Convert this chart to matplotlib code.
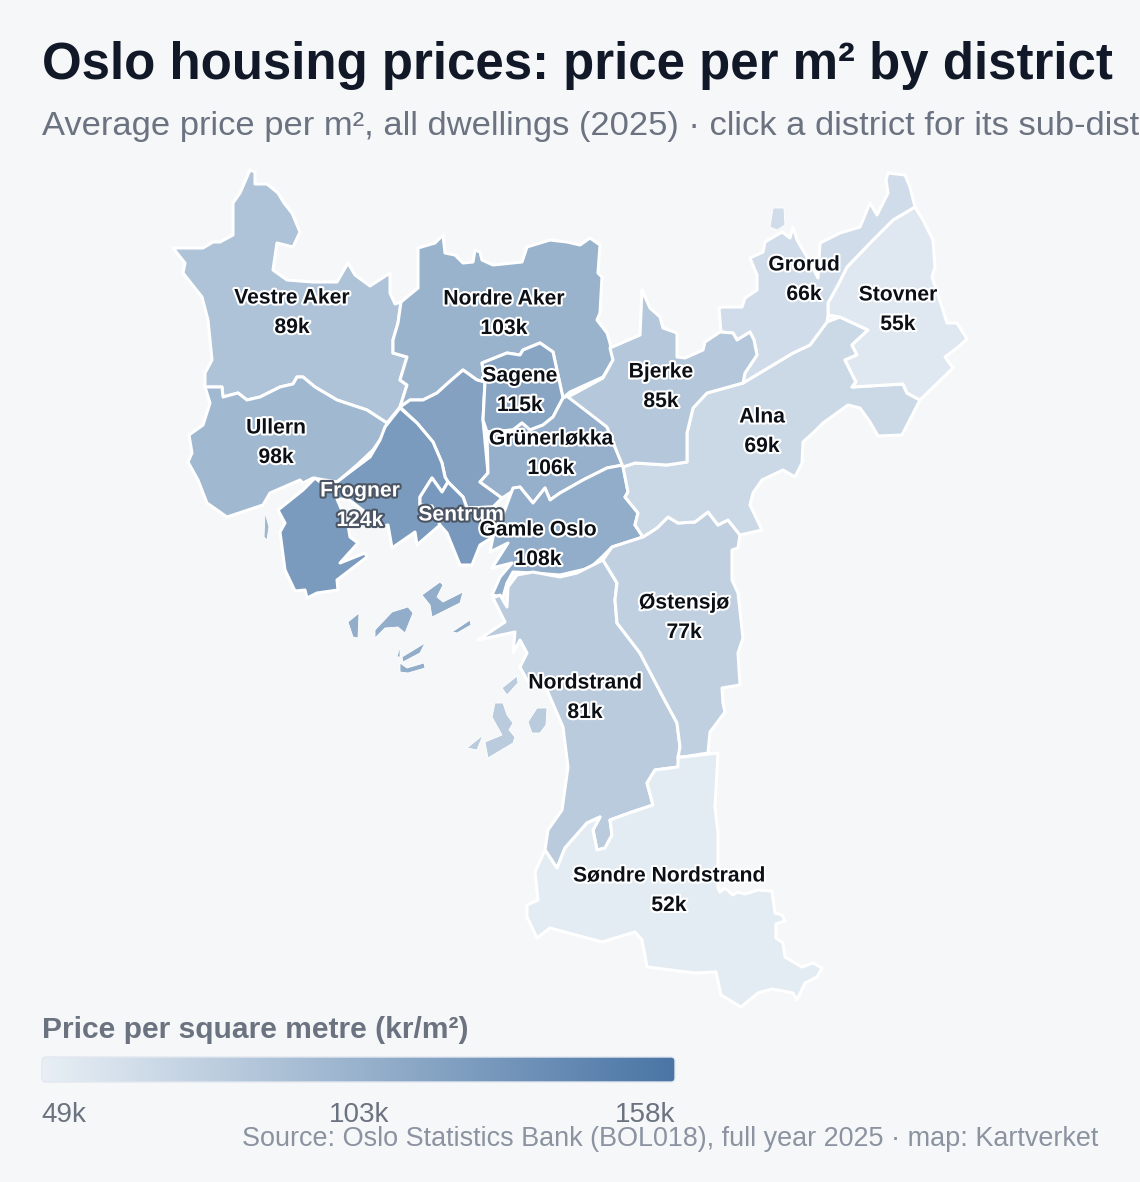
import matplotlib
matplotlib.use('Agg')
import matplotlib.pyplot as plt
import matplotlib.patheffects as pe
import numpy as np
from matplotlib.colors import LinearSegmentedColormap, Normalize
from matplotlib.patches import FancyBboxPatch, Polygon

plt.rcParams['font.family'] = ['Liberation Sans', 'DejaVu Sans']

# price per m2 in thousand kr
scale_min, scale_mid, scale_max = 49, 103, 158
scale_labels = ['49k', '103k', '158k']

names = ['Vestre Aker', 'Nordre Aker', 'Sagene', 'Bjerke', 'Grorud', 'Stovner', 'Ullern',
         'Grünerløkka', 'Alna', 'Frogner', 'Sentrum', 'Gamle Oslo', 'Østensjø',
         'Nordstrand', 'Søndre Nordstrand']
prices = [89, 103, 115, 85, 66, 55, 98, 106, 69, 124, 126, 108, 77, 81, 52]
price_labels = ['89k', '103k', '115k', '85k', '66k', '55k', '98k', '106k', '69k', '124k',
                None, '108k', '77k', '81k', '52k']
label_xy = [(292, 297), (504, 298), (520, 375), (661, 371), (804, 264), (898, 294), (276, 427),
            (551, 438), (762, 416), (360, 490), (461, 514), (538, 529), (684, 602),
            (585, 682), (669, 875)]
hanshaugen_price = 118  # district has no label on the map

vestre_aker = [(250, 170), (255, 172), (255, 184), (267, 184), (278, 193), (284, 203), (292, 213), (300, 232),
               (293, 247), (277, 243), (273, 270), (287, 280), (313, 282), (337, 282), (348, 263), (355, 275),
               (370, 286), (390, 273), (390, 293), (395, 304), (401, 302), (398, 323), (393, 340), (393, 353),
               (407, 357), (400, 380), (407, 385), (400, 407), (387, 423), (367, 410), (337, 400), (315, 387),
               (303, 377), (297, 377), (293, 384), (280, 387), (260, 397), (247, 400), (238, 393), (223, 397),
               (222, 387), (205, 387), (205, 373), (212, 360), (208, 320), (202, 297), (183, 273), (185, 263),
               (173, 248), (203, 248), (213, 242), (220, 242), (233, 235), (233, 203), (240, 193)]
ullern = [(205, 387), (222, 387), (223, 397), (238, 393), (247, 400), (260, 397), (280, 387), (293, 384),
          (297, 377), (303, 377), (315, 387), (337, 400), (367, 410), (387, 423), (382, 437), (373, 450),
          (357, 465), (337, 482), (313, 478), (303, 483), (300, 480), (270, 493), (263, 505), (227, 517),
          (207, 503), (198, 480), (188, 462), (192, 453), (189, 435), (203, 425), (210, 403)]
ullern_islet = [(265, 512), (269, 527), (267, 540), (264, 537)]
frogner = [(400, 408), (417, 423), (433, 442), (442, 463), (445, 477), (448, 482), (442, 492), (432, 478),
           (420, 497), (420, 505), (432, 506), (440, 525), (417, 545), (415, 532), (392, 548), (388, 525),
           (383, 526), (360, 508), (348, 499), (337, 499), (348, 525), (350, 537), (358, 543), (340, 563),
           (365, 553), (367, 557), (337, 580), (338, 590), (317, 593), (307, 598), (305, 590), (295, 591),
           (285, 570), (280, 532), (285, 523), (278, 510), (303, 490), (315, 478), (320, 482), (337, 482),
           (350, 472), (370, 457), (380, 440), (385, 427)]
sentrum = [(448, 482), (463, 497), (467, 508), (493, 507), (503, 510), (493, 537), (480, 545), (472, 565),
           (460, 565), (447, 533), (440, 525), (432, 506), (420, 505), (420, 497), (432, 478), (442, 492)]
hanshaugen = [(400, 407), (410, 400), (423, 400), (437, 393), (448, 383), (463, 370), (477, 380), (485, 382),
              (483, 420), (488, 473), (480, 482), (502, 498), (493, 507), (467, 508), (463, 497), (448, 482),
              (445, 477), (442, 463), (433, 442), (417, 423)]
nordre_aker = [(401, 302), (418, 288), (418, 248), (435, 243), (443, 235), (445, 253), (455, 255), (463, 263),
               (473, 262), (475, 250), (480, 252), (482, 260), (493, 265), (522, 262), (527, 247), (550, 240),
               (567, 242), (580, 245), (590, 238), (600, 245), (598, 273), (602, 277), (600, 313), (597, 320),
               (607, 333), (610, 343), (613, 360), (603, 377), (570, 392), (563, 398), (553, 352), (540, 343),
               (523, 350), (520, 355), (507, 353), (482, 363), (485, 382), (477, 380), (463, 370), (448, 383),
               (437, 393), (423, 400), (410, 400), (400, 407), (407, 385), (400, 380), (407, 357), (393, 353),
               (393, 340), (398, 323)]
sagene = [(482, 363), (507, 353), (520, 355), (523, 350), (540, 343), (553, 352), (563, 398), (553, 417),
          (543, 425), (530, 430), (522, 423), (513, 430), (487, 432), (483, 420), (485, 382)]
grunerlokka = [(487, 432), (513, 430), (522, 423), (530, 430), (543, 425), (553, 417), (563, 398), (570, 395),
               (607, 427), (615, 447), (623, 465), (607, 468), (583, 480), (560, 493), (550, 500), (545, 488),
               (533, 503), (520, 487), (513, 491), (502, 498), (480, 482), (488, 473)]
gamle_oslo = [(513, 488), (520, 487), (533, 503), (545, 488), (550, 500), (560, 493), (583, 480), (607, 468),
              (623, 465), (628, 492), (625, 497), (638, 513), (635, 525), (643, 537), (612, 547), (602, 557),
              (590, 568), (560, 575), (533, 573), (513, 572), (507, 583), (503, 597), (492, 595), (500, 577),
              (512, 563), (492, 568), (508, 543), (490, 552), (493, 537), (503, 515)]
oslo_islets = [[(422, 595), (440, 582), (443, 585), (437, 597), (443, 602), (463, 592), (460, 603), (432, 617), (430, 605)],
               [(375, 630), (392, 612), (408, 607), (413, 613), (405, 633), (398, 627), (385, 628), (375, 638)],
               [(348, 622), (359, 613), (358, 638), (353, 637)],
               [(452, 632), (470, 620), (471, 625), (457, 633)],
               [(402, 657), (425, 643), (420, 653), (403, 662)],
               [(400, 663), (407, 668), (424, 663), (425, 668), (408, 673), (400, 672)],
               [(397, 657), (400, 646), (400, 657)]]
nordstrand = [(603, 560), (577, 573), (560, 577), (533, 572), (517, 575), (508, 587), (507, 607), (500, 595),
              (493, 598), (505, 622), (478, 640), (515, 632), (513, 653), (520, 640), (527, 653), (520, 667),
              (527, 680), (547, 690), (563, 727), (568, 767), (562, 810), (548, 830), (545, 850), (557, 868),
              (565, 848), (587, 823), (600, 817), (593, 830), (597, 850), (605, 848), (612, 835), (610, 820),
              (632, 812), (653, 805), (647, 783), (655, 770), (678, 767), (680, 747), (677, 723), (663, 697),
              (640, 653), (617, 623), (615, 600), (617, 583)]
nordstrand_islets = [[(502, 688), (517, 676), (518, 683), (507, 695)],
                     [(528, 722), (537, 708), (547, 708), (546, 725), (540, 733), (532, 733)],
                     [(492, 717), (495, 703), (503, 703), (507, 715), (513, 723), (509, 730), (515, 737), (513, 743),
                      (488, 758), (485, 742), (502, 735)],
                     [(467, 748), (483, 735), (477, 750)]]
ostensjo = [(603, 560), (612, 547), (643, 537), (657, 528), (668, 517), (678, 523), (695, 522), (708, 512),
            (718, 525), (728, 520), (740, 535), (738, 548), (732, 550), (732, 580), (738, 593), (743, 638),
            (738, 653), (740, 685), (722, 688), (723, 703), (725, 712), (710, 732), (708, 753), (683, 757),
            (678, 757), (680, 747), (677, 723), (663, 697), (640, 653), (617, 623), (615, 600), (617, 583)]
sondre = [(678, 757), (683, 757), (718, 753), (715, 807), (718, 833), (718, 888), (720, 892), (725, 888),
          (733, 895), (737, 892), (745, 894), (758, 890), (772, 891), (775, 913), (782, 915), (785, 921),
          (776, 924), (776, 938), (783, 943), (785, 957), (802, 967), (813, 963), (822, 968), (817, 977),
          (805, 983), (797, 1000), (793, 993), (772, 989), (758, 993), (741, 1007), (721, 995), (716, 972),
          (695, 973), (647, 967), (642, 940), (635, 932), (602, 942), (550, 928), (537, 938), (527, 917),
          (527, 905), (538, 900), (535, 872), (545, 850), (557, 868), (565, 848), (587, 823), (600, 817),
          (593, 830), (597, 850), (605, 848), (612, 835), (610, 820), (632, 812), (653, 805), (647, 783),
          (655, 770), (678, 767)]
alna = [(623, 467), (635, 463), (667, 465), (687, 462), (687, 433), (693, 408), (707, 393), (743, 383),
        (793, 353), (810, 345), (827, 322), (840, 317), (868, 330), (852, 345), (857, 355), (845, 360),
        (856, 382), (852, 387), (903, 384), (907, 393), (920, 400), (902, 435), (878, 436), (870, 422),
        (860, 408), (848, 405), (823, 423), (813, 433), (803, 442), (802, 463), (795, 477), (783, 470),
        (762, 480), (753, 493), (750, 505), (762, 530), (740, 535), (728, 520), (718, 525), (708, 512),
        (695, 522), (678, 523), (668, 517), (657, 528), (643, 537), (635, 525), (638, 513), (625, 497),
        (628, 492)]
stovner = [(915, 207), (923, 220), (933, 240), (935, 267), (932, 277), (942, 307), (947, 323), (957, 323),
           (967, 339), (957, 348), (945, 357), (953, 368), (920, 400), (907, 393), (903, 384), (852, 387),
           (856, 382), (845, 360), (857, 355), (852, 345), (868, 330), (840, 317), (828, 315), (828, 303),
           (838, 285), (847, 267), (873, 240), (893, 220)]
grorud = [(915, 207), (910, 187), (905, 175), (888, 173), (886, 180), (888, 193), (877, 215), (870, 203),
          (860, 227), (840, 233), (820, 243), (818, 278), (807, 257), (797, 240), (793, 227), (790, 238),
          (782, 232), (765, 242), (763, 252), (750, 258), (757, 275), (757, 290), (745, 298), (742, 307),
          (723, 307), (719, 308), (721, 332), (733, 333), (737, 340), (750, 332), (754, 340), (757, 355),
          (745, 373), (743, 383), (793, 353), (810, 345), (827, 322), (828, 315), (828, 303), (838, 285),
          (847, 267), (873, 240), (893, 220)]
grorud_exclave = [(773, 208), (784, 208), (785, 225), (777, 230), (770, 227)]
bjerke = [(568, 397), (603, 378), (613, 360), (610, 348), (640, 335), (642, 290), (650, 308), (660, 317),
          (663, 328), (677, 333), (677, 357), (685, 358), (703, 350), (705, 342), (720, 332), (733, 333),
          (737, 340), (750, 332), (754, 340), (757, 355), (745, 373), (743, 383), (707, 393), (693, 408),
          (687, 433), (687, 462), (667, 465), (635, 463), (623, 467), (615, 447), (607, 427)]

shapes = [(vestre_aker, 89), (ullern, 98), (nordre_aker, 103), (hanshaugen, hanshaugen_price),
          (frogner, 124), (sentrum, 126), (sagene, 115), (grunerlokka, 106), (gamle_oslo, 108),
          (nordstrand, 81), (ostensjo, 77), (sondre, 52), (alna, 69), (stovner, 55), (grorud, 66),
          (bjerke, 85)]
islets = [(ullern_islet, 98), (grorud_exclave, 66)]
islets += [(p, 108) for p in oslo_islets] + [(p, 81) for p in nordstrand_islets]

cmap = LinearSegmentedColormap.from_list('price', ['#e8eff5', '#4a75a5'])
norm = Normalize(scale_min, scale_max)

fig = plt.figure(figsize=(11.4, 11.82), dpi=100, facecolor='#f6f7f9')
ax = fig.add_axes([0, 0, 1, 1])
ax.set_xlim(0, 1140)
ax.set_ylim(1182, 0)
ax.axis('off')

ax.text(42, 65, 'Oslo housing prices: price per m² by district', fontsize=36.74, fontweight='bold',
        color='#111827', va='center', ha='left')
ax.text(42, 126, 'Average price per m², all dwellings (2025) · click a district for its sub-districts',
        fontsize=24.8, color='#6b7280', va='center', ha='left', clip_on=True)

for pts, value in shapes:
    ax.add_patch(Polygon(pts, closed=True, facecolor=cmap(norm(value)), edgecolor='white',
                         linewidth=2.2, joinstyle='round'))
# thin edge here, a full stroke eats most of the small islands
for pts, value in islets:
    ax.add_patch(Polygon(pts, closed=True, facecolor=cmap(norm(value)), edgecolor='white',
                         linewidth=0.6, joinstyle='round'))

for name, price, lab, (x, y) in zip(names, prices, price_labels, label_xy):
    # the two darkest districts get white text
    if price >= 120:
        col, halo = 'white', '#4b5563'
    else:
        col, halo = '#0b0f16', 'white'
    fx = [pe.withStroke(linewidth=3, foreground=halo)]
    ax.text(x, y + 1, name, fontsize=15.2, fontweight='bold', color=col, ha='center', va='center', path_effects=fx)
    if lab:
        ax.text(x, y + 30.5, lab, fontsize=15.2, fontweight='bold', color=col, ha='center', va='center', path_effects=fx)

# legend
ax.text(42, 1030, 'Price per square metre (kr/m²)', fontsize=21.6, fontweight='bold', color='#6b7280', va='center')
grad = np.linspace(scale_min, scale_max, 256).reshape(1, -1)
im = ax.imshow(grad, cmap=cmap, norm=norm, extent=(42, 675, 1082, 1057), aspect='auto', zorder=2)
frame = FancyBboxPatch((44, 1059), 629, 21, boxstyle='round,pad=2,rounding_size=4', facecolor='none',
                       edgecolor='#e2e8f0', linewidth=1, transform=ax.transData, zorder=3)
ax.add_patch(frame)
im.set_clip_path(frame)
ax.set_xlim(0, 1140)
ax.set_ylim(1182, 0)

for s, x, ha in zip(scale_labels, [41.5, 359, 675], ['left', 'center', 'right']):
    ax.text(x, 1114.5, s, fontsize=20, color='#6b7280', ha=ha, va='center')
ax.text(1098, 1139, 'Source: Oslo Statistics Bank (BOL018), full year 2025 · map: Kartverket',
        fontsize=19.47, color='#8b93a0', ha='right', va='center')

fig.savefig('out.png', dpi=100, facecolor=fig.get_facecolor())
